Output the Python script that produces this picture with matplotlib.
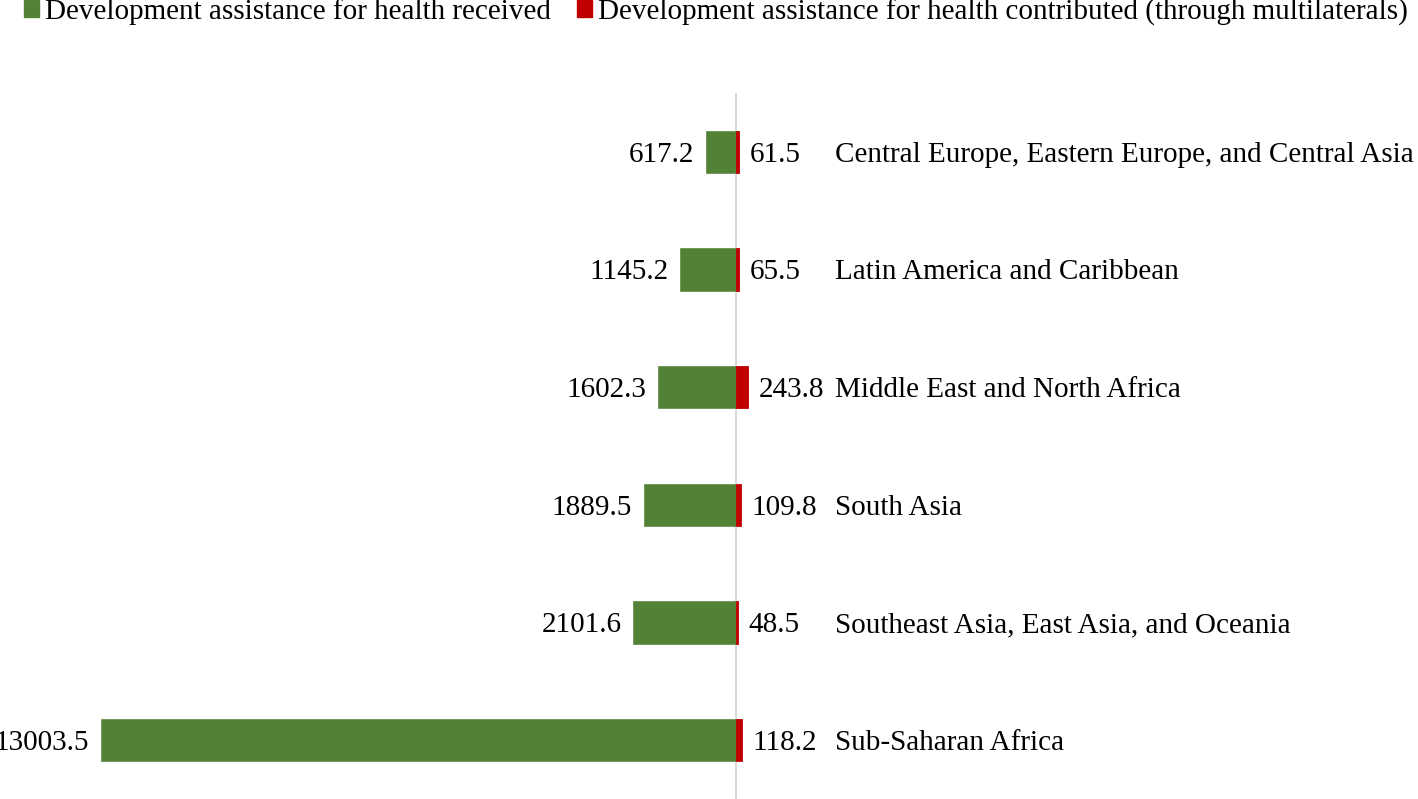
import matplotlib
matplotlib.use("Agg")
import matplotlib.pyplot as plt
from matplotlib.patches import Patch

regions = [
    "Central Europe, Eastern Europe, and Central Asia",
    "Latin America and Caribbean",
    "Middle East and North Africa",
    "South Asia",
    "Southeast Asia, East Asia, and Oceania",
    "Sub-Saharan Africa",
]
received = [617.2, 1145.2, 1602.3, 1889.5, 2101.6, 13003.5]
contributed = [61.5, 65.5, 243.8, 109.8, 48.5, 118.2]
legend_labels = ["Development assistance for health received",
                 "Development assistance for health contributed (through multilaterals)"]

GREEN = "#538135"
RED = "#C00000"

plt.rcParams["font.family"] = ["Liberation Serif", "DejaVu Serif"]

W, H = 1418, 799
fig = plt.figure(figsize=(W / 100, H / 100), dpi=100)
ax = fig.add_axes([0, 0, 1, (H - 93) / H])

zero_px = 736
scale = 635 / 13003.5  # px per unit
ax.set_xlim(-zero_px / scale, (W - zero_px) / scale)
ax.set_ylim(len(regions) - 0.5, -0.5)

ys = list(range(len(regions)))
bh = 0.36
ax.barh(ys, [-v for v in received], height=bh, color=GREEN, edgecolor="#6a9450", linewidth=0.6)
ax.barh(ys, contributed, height=bh, color=RED, edgecolor=RED, linewidth=0.6)
ax.axvline(0, color="#D9D9D9", linewidth=1.5, zorder=0)

fs = 21
dy = -2
for y, r, c, name in zip(ys, received, contributed, regions):
    ax.annotate(f"{r}", xy=(-r, y), xytext=(-8.5, dy), textcoords="offset points",
                ha="right", va="center", fontsize=fs)
    ax.annotate(f"{c}", xy=(c, y), xytext=(7.5, dy), textcoords="offset points",
                ha="left", va="center", fontsize=fs)
    ax.annotate(name, xy=(0, y), xytext=(71.5, dy), textcoords="offset points",
                ha="left", va="center", fontsize=fs)

ax.axis("off")

handles = [Patch(facecolor=GREEN, edgecolor=GREEN),
           Patch(facecolor=RED, edgecolor=RED)]
fig.legend(handles, legend_labels,
           loc="center left", bbox_to_anchor=(24 / W, 1 - 12 / H), ncol=2, frameon=False,
           fontsize=fs, handlelength=0.52, handleheight=0.52, handletextpad=0.2,
           columnspacing=0.9, borderaxespad=0, borderpad=0)

fig.savefig("out.png", dpi=100)
